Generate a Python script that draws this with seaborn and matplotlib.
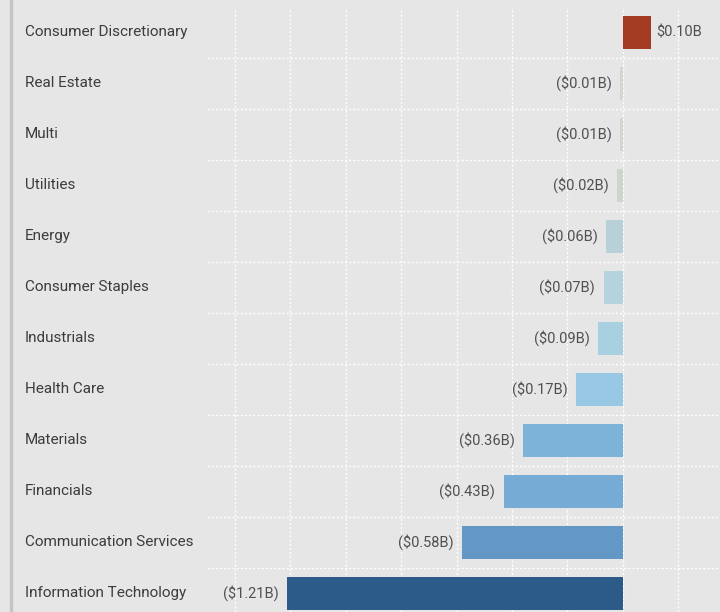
import matplotlib
matplotlib.use("Agg")
import matplotlib.pyplot as plt
import matplotlib.transforms as mtransforms
from matplotlib.lines import Line2D
import numpy as np
import pandas as pd
import seaborn as sns

# datos del gráfico
sectors = [
    "Consumer Discretionary", "Real Estate", "Multi", "Utilities", "Energy",
    "Consumer Staples", "Industrials", "Health Care", "Materials", "Financials",
    "Communication Services", "Information Technology",
]
flows = [0.10, -0.01, -0.01, -0.02, -0.06, -0.07, -0.09, -0.17, -0.36, -0.43, -0.58, -1.21]
bar_colors = [
    "#a23b22", "#d6d6d0", "#d6d6d0", "#cdd6cd", "#b8d1d9", "#b4d3dd",
    "#a8d0e1", "#98c8e3", "#7db3d8", "#76abd5", "#6398c6", "#2c5b8a",
]

df = pd.DataFrame({"sector": sectors, "flow": flows})

BG = "#e6e6e6"
sns.set_theme(style="whitegrid")
plt.rcParams["font.family"] = ["Roboto", "DejaVu Sans"]

fig = plt.figure(figsize=(7.2, 6.12), dpi=100, facecolor=BG)
ax = fig.add_axes([207 / 720, 0, 1 - 207 / 720, (612 - 7) / 612])
ax.set_facecolor(BG)

sns.barplot(
    data=df, y="sector", x="flow", hue="sector", palette=bar_colors,
    orient="h", width=0.65, legend=False, ax=ax, saturation=1, linewidth=0,
)

ax.set_xlim(-1.5, 0.35)
ax.set_ylim(11.37, -0.5)
ax.set_xticks(np.arange(-1.4, 0.31, 0.2))
ax.set_yticks(np.arange(0.5, 11, 1.0))
ax.set_xticklabels([])
ax.set_yticklabels([])
ax.tick_params(length=0)
ax.set_xlabel("")
ax.set_ylabel("")
ax.grid(True, color="white", linestyle=(0, (1.5, 1.5)), linewidth=1)
ax.set_axisbelow(True)
for s in ax.spines.values():
    s.set_visible(False)

# etiquetas de sector alineadas a la izquierda
trans = mtransforms.blended_transform_factory(fig.transFigure, ax.transData)
for i, name in enumerate(sectors):
    ax.text(25 / 720, i, name, transform=trans, ha="left", va="center",
            fontsize=11, color="#3c3c3c")

# etiquetas de valor
for i, v in enumerate(flows):
    if v >= 0:
        ax.annotate(f"${v:.2f}B", (v, i), xytext=(4, 0), textcoords="offset points",
                    ha="left", va="center", fontsize=10.5, color="#505050")
    else:
        ax.annotate(f"(${abs(v):.2f}B)", (v, i), xytext=(-6, 0), textcoords="offset points",
                    ha="right", va="center", fontsize=10.5, color="#505050")

# borde gris a la izquierda
fig.add_artist(Line2D([10.5 / 720, 10.5 / 720], [0, 1], transform=fig.transFigure,
                      color="#c4c4c4", linewidth=2.5))

fig.savefig("out.png", dpi=100, facecolor=BG)
